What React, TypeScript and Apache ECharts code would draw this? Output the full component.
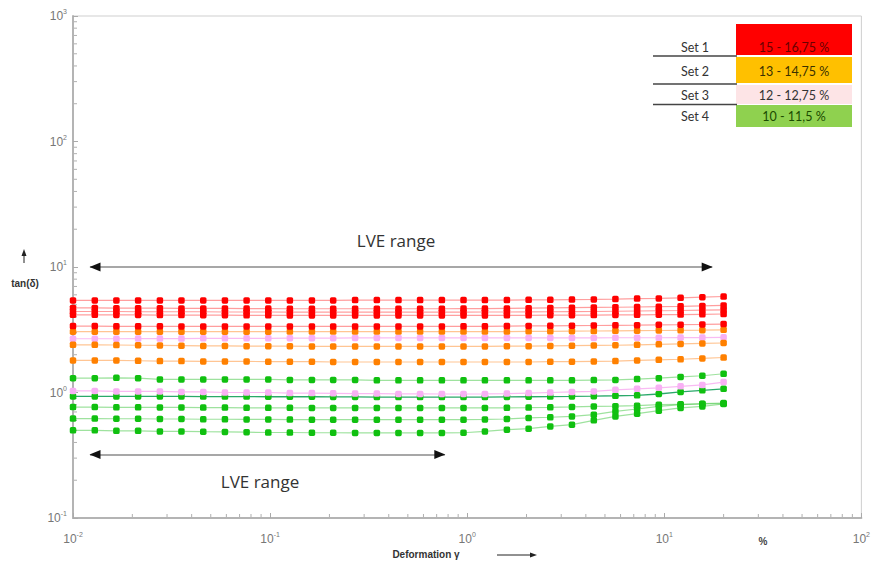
import React, { useEffect, useRef } from "react";
import * as echarts from "echarts";

// Deformation γ (%) — 31 points, log spaced from 0.01 to 20
const strain = [
  0.01, 0.0129, 0.0166, 0.0214, 0.0276, 0.0355, 0.0458, 0.059, 0.076, 0.0979,
  0.126, 0.163, 0.209, 0.27, 0.348, 0.448, 0.577, 0.744, 0.958, 1.23,
  1.59, 2.05, 2.64, 3.4, 4.39, 5.65, 7.28, 9.38, 12.1, 15.6, 20,
];

// Set 1 (15 - 16,75 %) — red
const set1a = [5.42, 5.42, 5.42, 5.42, 5.42, 5.42, 5.42, 5.42, 5.42, 5.42, 5.42, 5.42, 5.42, 5.45, 5.45, 5.45, 5.45, 5.45, 5.45, 5.45, 5.45, 5.48, 5.48, 5.5, 5.52, 5.55, 5.6, 5.62, 5.68, 5.75, 5.82];
const set1b = [4.72, 4.72, 4.7, 4.7, 4.7, 4.68, 4.68, 4.68, 4.66, 4.66, 4.65, 4.65, 4.65, 4.65, 4.65, 4.65, 4.65, 4.65, 4.66, 4.66, 4.68, 4.7, 4.72, 4.74, 4.76, 4.78, 4.8, 4.83, 4.86, 4.9, 4.94];
const set1c = [4.42, 4.42, 4.42, 4.4, 4.4, 4.4, 4.4, 4.38, 4.38, 4.38, 4.37, 4.37, 4.37, 4.37, 4.37, 4.37, 4.37, 4.37, 4.37, 4.38, 4.38, 4.39, 4.4, 4.41, 4.42, 4.44, 4.46, 4.48, 4.5, 4.53, 4.56];
const set1d = [4.16, 4.16, 4.15, 4.15, 4.14, 4.14, 4.13, 4.13, 4.12, 4.12, 4.11, 4.11, 4.11, 4.11, 4.11, 4.11, 4.11, 4.11, 4.11, 4.11, 4.12, 4.12, 4.13, 4.13, 4.14, 4.15, 4.16, 4.17, 4.18, 4.2, 4.22];
const set1e = [3.38, 3.38, 3.37, 3.37, 3.37, 3.36, 3.36, 3.36, 3.36, 3.36, 3.36, 3.36, 3.36, 3.36, 3.36, 3.36, 3.36, 3.36, 3.37, 3.37, 3.38, 3.39, 3.4, 3.41, 3.42, 3.43, 3.44, 3.46, 3.47, 3.49, 3.51];

// Set 2 (13 - 14,75 %) — orange
const set2a = [3.05, 3.05, 3.05, 3.05, 3.05, 3.05, 3.05, 3.05, 3.05, 3.05, 3.06, 3.06, 3.06, 3.06, 3.06, 3.06, 3.06, 3.06, 3.06, 3.06, 3.06, 3.07, 3.07, 3.08, 3.09, 3.1, 3.11, 3.12, 3.13, 3.14, 3.16];
const set2b = [2.4, 2.4, 2.39, 2.38, 2.37, 2.36, 2.35, 2.35, 2.34, 2.34, 2.34, 2.33, 2.33, 2.33, 2.33, 2.33, 2.33, 2.33, 2.33, 2.33, 2.34, 2.34, 2.35, 2.36, 2.37, 2.38, 2.4, 2.42, 2.44, 2.46, 2.48];
const set2c = [1.8, 1.8, 1.8, 1.79, 1.78, 1.78, 1.77, 1.77, 1.77, 1.76, 1.76, 1.76, 1.75, 1.75, 1.75, 1.75, 1.75, 1.75, 1.75, 1.75, 1.75, 1.75, 1.76, 1.76, 1.77, 1.78, 1.8, 1.82, 1.84, 1.87, 1.9];

// Set 3 (12 - 12,75 %) — pink
const set3a = [2.68, 2.68, 2.68, 2.69, 2.69, 2.69, 2.7, 2.7, 2.7, 2.7, 2.71, 2.71, 2.71, 2.72, 2.72, 2.72, 2.72, 2.72, 2.72, 2.72, 2.72, 2.72, 2.72, 2.72, 2.72, 2.73, 2.73, 2.73, 2.74, 2.74, 2.75];
const set3b = [1.03, 1.03, 1.02, 1.02, 1.02, 1.01, 1.01, 1.0, 1.0, 1.0, 0.99, 0.99, 0.985, 0.98, 0.98, 0.975, 0.975, 0.973, 0.973, 0.975, 0.98, 0.99, 1.0, 1.01, 1.02, 1.05, 1.07, 1.09, 1.12, 1.15, 1.21];

// Set 4 (10 - 11,5 %) — green
const set4a = [1.3, 1.3, 1.31, 1.3, 1.27, 1.27, 1.27, 1.27, 1.27, 1.27, 1.26, 1.26, 1.26, 1.26, 1.25, 1.25, 1.25, 1.25, 1.25, 1.25, 1.25, 1.25, 1.25, 1.25, 1.255, 1.26, 1.28, 1.3, 1.33, 1.36, 1.41];
const set4b = [0.93, 0.93, 0.93, 0.93, 0.93, 0.93, 0.928, 0.928, 0.928, 0.925, 0.925, 0.925, 0.922, 0.922, 0.92, 0.92, 0.92, 0.92, 0.92, 0.92, 0.922, 0.925, 0.928, 0.93, 0.935, 0.942, 0.95, 0.973, 1.01, 1.04, 1.07];
const set4c = [0.765, 0.765, 0.762, 0.762, 0.76, 0.76, 0.758, 0.758, 0.755, 0.755, 0.755, 0.753, 0.753, 0.753, 0.753, 0.753, 0.753, 0.753, 0.753, 0.753, 0.755, 0.758, 0.762, 0.768, 0.775, 0.778, 0.785, 0.8, 0.805, 0.81, 0.815];
const set4d = [0.62, 0.62, 0.618, 0.618, 0.615, 0.615, 0.612, 0.612, 0.61, 0.61, 0.608, 0.607, 0.607, 0.607, 0.607, 0.607, 0.607, 0.607, 0.607, 0.61, 0.615, 0.627, 0.635, 0.645, 0.666, 0.707, 0.739, 0.775, 0.8, 0.814, 0.825];
const set4e = [0.5, 0.5, 0.495, 0.495, 0.49, 0.49, 0.487, 0.485, 0.483, 0.48, 0.48, 0.478, 0.478, 0.476, 0.476, 0.476, 0.476, 0.476, 0.478, 0.49, 0.506, 0.515, 0.537, 0.554, 0.6, 0.645, 0.678, 0.716, 0.753, 0.775, 0.81];

const legendSets = ["Set 1", "Set 2", "Set 3", "Set 4"];
const legendRanges = ["15 - 16,75 %", "13 - 14,75 %", "12 - 12,75 %", "10 - 11,5 %"];

// LVE range arrows (strain from, strain to, tan δ level)
const lveTop = [0.0122, 17.5, 10];
const lveBottom = [0.0122, 0.77, 0.32];

const RED = { marker: "#ff0000", line: "rgba(255,40,40,0.45)" };
const ORANGE = { marker: "#ff8000", line: "rgba(255,140,40,0.5)" };
const PINK = { marker: "#f8b0f4", line: "rgba(248,170,240,0.8)" };
const GREEN = { marker: "#10c010", line: "rgba(40,190,40,0.45)" };
const TEAL = { marker: "#10c010", line: "rgba(20,160,90,0.9)" };

const curves: { data: number[]; c: { marker: string; line: string } }[] = [
  { data: set4e, c: GREEN },
  { data: set4d, c: GREEN },
  { data: set4c, c: GREEN },
  { data: set4b, c: TEAL },
  { data: set4a, c: GREEN },
  { data: set3b, c: PINK },
  { data: set3a, c: PINK },
  { data: set2c, c: ORANGE },
  { data: set2b, c: ORANGE },
  { data: set2a, c: ORANGE },
  { data: set1e, c: RED },
  { data: set1d, c: RED },
  { data: set1c, c: RED },
  { data: set1b, c: RED },
  { data: set1a, c: RED },
];

export default function App() {
  const ref = useRef<HTMLDivElement>(null);

  useEffect(() => {
    const chart = echarts.init(ref.current!, null, { renderer: "svg" });

    const minor: number[][] = [];
    for (let k = -1; k < 3; k++) {
      for (let m = 2; m <= 9; m++) minor.push([0.01, m * Math.pow(10, k), 0]);
    }
    for (let k = -2; k < 2; k++) {
      for (let m = 2; m <= 9; m++) minor.push([m * Math.pow(10, k), 0.1, 1]);
    }

    const labelRich = {
      b: { fontSize: 12, color: "#777", fontFamily: "Liberation Sans" },
      e: { fontSize: 7, color: "#777", fontFamily: "Liberation Sans", padding: [0, 0, 9, 0] },
    };
    const fmt = (v: number) => `{b|10}{e|${Math.round(Math.log10(v))}}`;

    const lineSeries = curves.map((s, i) => ({
      type: "line",
      name: "s" + i,
      data: strain.map((x, j) => [x, s.data[j]]),
      symbol: "roundRect",
      symbolSize: 6.5,
      itemStyle: { color: s.c.marker },
      lineStyle: { color: s.c.line, width: s.c === TEAL ? 1.3 : 1.2 },
      z: 3,
    }));

    const triSize = [9, 11];
    const option: any = {
      animation: false,
      backgroundColor: "#fff",
      grid: {
        left: 73,
        right: 11,
        top: 16,
        bottom: 49,
        show: true,
        borderColor: "#cfcfcf",
        borderWidth: 1,
        backgroundColor: "transparent",
      },
      xAxis: {
        type: "log",
        logBase: 10,
        min: 0.01,
        max: 100,
        axisLine: { show: true, lineStyle: { color: "#b4b4b4", width: 2 } },
        axisTick: { show: true, inside: true, length: 5, lineStyle: { color: "#aaa" } },
        splitLine: { show: false },
        axisLabel: { formatter: fmt, rich: labelRich, margin: 13 },
      },
      yAxis: {
        type: "log",
        logBase: 10,
        min: 0.1,
        max: 1000,
        axisLine: { show: true, lineStyle: { color: "#b4b4b4", width: 2 } },
        axisTick: { show: true, inside: true, length: 5, lineStyle: { color: "#aaa" } },
        splitLine: { show: false },
        axisLabel: { formatter: fmt, rich: labelRich, margin: 6 },
      },
      series: [
        {
          type: "custom",
          data: minor,
          silent: true,
          z: 1,
          renderItem: (params: any, api: any) => {
            const p = api.coord([api.value(0), api.value(1)]);
            const kind = api.value(2);
            return {
              type: "line",
              shape:
                kind === 0
                  ? { x1: p[0] + 1, y1: p[1], x2: p[0] + 4, y2: p[1] }
                  : { x1: p[0], y1: p[1] - 1, x2: p[0], y2: p[1] - 4 },
              style: { stroke: "#b0b0b0", lineWidth: 1 },
            };
          },
        },
        ...lineSeries,
        {
          type: "scatter",
          data: [],
          silent: true,
          markLine: {
            silent: true,
            symbol: "none",
            label: { show: false },
            lineStyle: { color: "#8a8a8a", width: 1.5, type: "solid" },
            data: [
              [{ coord: [lveTop[0], lveTop[2]] }, { coord: [lveTop[1], lveTop[2]] }],
              [{ coord: [lveBottom[0], lveBottom[2]] }, { coord: [lveBottom[1], lveBottom[2]] }],
            ],
          },
          markPoint: {
            silent: true,
            label: { show: false },
            itemStyle: { color: "#111" },
            data: [
              { coord: [lveTop[0], lveTop[2]], symbol: "triangle", symbolSize: triSize, symbolRotate: 90, symbolOffset: [5, 0] },
              { coord: [lveTop[1], lveTop[2]], symbol: "triangle", symbolSize: triSize, symbolRotate: -90, symbolOffset: [-5, 0] },
              { coord: [lveBottom[0], lveBottom[2]], symbol: "triangle", symbolSize: triSize, symbolRotate: 90, symbolOffset: [5, 0] },
              { coord: [lveBottom[1], lveBottom[2]], symbol: "triangle", symbolSize: triSize, symbolRotate: -90, symbolOffset: [-5, 0] },
            ],
          },
        },
      ],
      graphic: [
        { type: "text", x: 396, y: 240, style: { text: "LVE range", font: "17px 'Open Sans'", fill: "#333", align: "center", verticalAlign: "middle" } },
        { type: "text", x: 260, y: 481, style: { text: "LVE range", font: "17px 'Open Sans'", fill: "#333", align: "center", verticalAlign: "middle" } },
        // legend table
        { type: "rect", shape: { x: 736, y: 24, width: 116, height: 31 }, style: { fill: "#ff0000" } },
        { type: "rect", shape: { x: 736, y: 57, width: 116, height: 26 }, style: { fill: "#ffc000" } },
        { type: "rect", shape: { x: 736, y: 85, width: 116, height: 19 }, style: { fill: "#fde4e6" } },
        { type: "rect", shape: { x: 736, y: 105, width: 116, height: 22 }, style: { fill: "#8fd14f" } },
        { type: "line", shape: { x1: 653, y1: 56, x2: 737, y2: 56 }, style: { stroke: "#444", lineWidth: 1.5 } },
        { type: "line", shape: { x1: 653, y1: 84, x2: 737, y2: 84 }, style: { stroke: "#444", lineWidth: 1.5 } },
        { type: "line", shape: { x1: 653, y1: 104.5, x2: 737, y2: 104.5 }, style: { stroke: "#444", lineWidth: 1.5 } },
        ...legendSets.map((t, i) => ({
          type: "text",
          x: 695,
          y: [47, 71, 95, 116][i],
          style: { text: t, font: "12.5px Lato", fill: "#333", align: "center", verticalAlign: "middle" },
        })),
        ...legendRanges.map((t, i) => ({
          type: "text",
          x: 794,
          y: [47, 71, 95, 116][i],
          style: {
            text: t,
            font: "12.5px Lato",
            fill: ["#6a0000", "#3a3000", "#333", "#1a4a00"][i],
            align: "center",
            verticalAlign: "middle",
          },
        })),
        // axis names
        { type: "text", x: 426, y: 554, style: { text: "Deformation γ", font: "bold 10px 'Liberation Sans'", fill: "#333", align: "center", verticalAlign: "middle" } },
        { type: "line", shape: { x1: 497, y1: 555, x2: 532, y2: 555 }, style: { stroke: "#222", lineWidth: 1 } },
        { type: "polygon", shape: { points: [[530, 552.5], [537, 555], [530, 557.5]] }, style: { fill: "#222" } },
        { type: "text", x: 763, y: 541, style: { text: "%", font: "bold 10px 'Liberation Sans'", fill: "#444", align: "center", verticalAlign: "middle" } },
        { type: "text", x: 25, y: 283, style: { text: "tan(δ)", font: "bold 10px 'Liberation Sans'", fill: "#333", align: "center", verticalAlign: "middle" } },
        { type: "line", shape: { x1: 24, y1: 255, x2: 24, y2: 263 }, style: { stroke: "#222", lineWidth: 1 } },
        { type: "polygon", shape: { points: [[21.5, 256], [24, 249], [26.5, 256]] }, style: { fill: "#222" } },
      ],
    };

    chart.setOption(option);
    return () => chart.dispose();
  }, []);

  return (
    <div
      ref={ref}
      style={{ position: "fixed", left: 0, top: 0, width: 873, height: 567, background: "#fff" }}
    />
  );
}
